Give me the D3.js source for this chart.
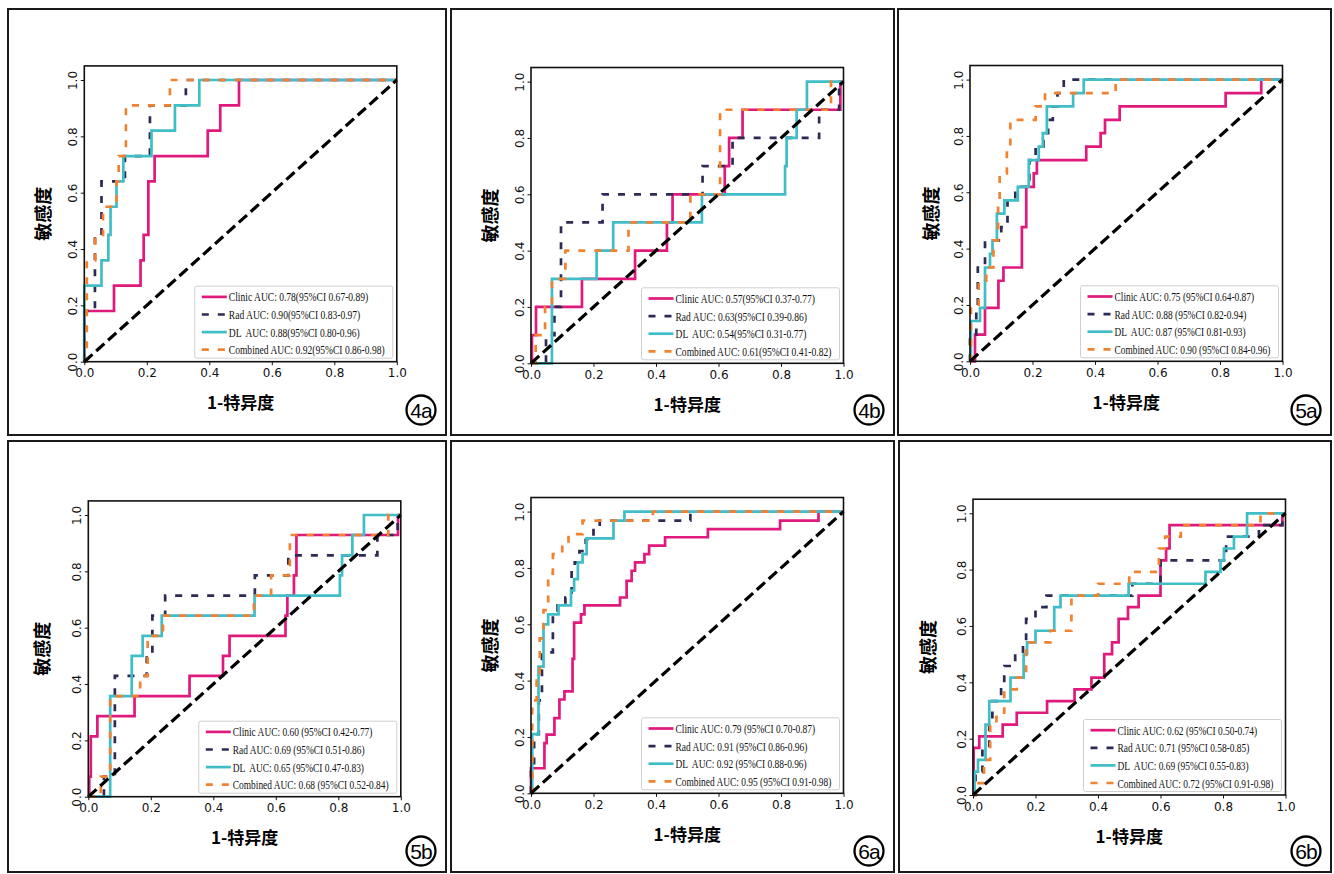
<!DOCTYPE html>
<html>
<head>
<meta charset="utf-8">
<script src="https://cdn.jsdelivr.net/npm/d3@7"></script>
<style>
body { margin: 0; background: #fff; }
</style>
</head>
<body>
<script>
// ---------- data ----------
var panelNames = ["4a", "4b", "5a", "5b", "6a", "6b"];
var seriesNames = ["Clinic", "Rad", "DL", "Combined"];
var tickValues = [0, 0.2, 0.4, 0.6, 0.8, 1.0];

var legend_4a = ["Clinic AUC: 0.78(95%CI 0.67-0.89)", "Rad AUC: 0.90(95%CI 0.83-0.97)", "DL  AUC: 0.88(95%CI 0.80-0.96)", "Combined AUC: 0.92(95%CI 0.86-0.98)"];
var legend_4b = ["Clinic AUC: 0.57(95%CI 0.37-0.77)", "Rad AUC: 0.63(95%CI 0.39-0.86)", "DL  AUC: 0.54(95%CI 0.31-0.77)", "Combined AUC: 0.61(95%CI 0.41-0.82)"];
var legend_5a = ["Clinic AUC: 0.75 (95%CI 0.64-0.87)", "Rad AUC: 0.88 (95%CI 0.82-0.94)", "DL  AUC: 0.87 (95%CI 0.81-0.93)", "Combined AUC: 0.90 (95%CI 0.84-0.96)"];
var legend_5b = ["Clinic AUC: 0.60 (95%CI 0.42-0.77)", "Rad AUC: 0.69 (95%CI 0.51-0.86)", "DL  AUC: 0.65 (95%CI 0.47-0.83)", "Combined AUC: 0.68 (95%CI 0.52-0.84)"];
var legend_6a = ["Clinic AUC: 0.79 (95%CI 0.70-0.87)", "Rad AUC: 0.91 (95%CI 0.86-0.96)", "DL  AUC: 0.92 (95%CI 0.88-0.96)", "Combined AUC: 0.95 (95%CI 0.91-0.98)"];
var legend_6b = ["Clinic AUC: 0.62 (95%CI 0.50-0.74)", "Rad AUC: 0.71 (95%CI 0.58-0.85)", "DL  AUC: 0.69 (95%CI 0.55-0.83)", "Combined AUC: 0.72 (95%CI 0.91-0.98)"];

// ROC vertices [1-specificity, sensitivity]
var clinic_4a = [[0,0],[0,0.18],[0.095,0.18],[0.095,0.27],[0.18,0.27],[0.18,0.36],[0.19,0.36],[0.19,0.45],[0.205,0.45],[0.205,0.64],[0.225,0.64],[0.225,0.73],[0.395,0.73],[0.395,0.82],[0.435,0.82],[0.435,0.91],[0.495,0.91],[0.495,1],[1,1]];
var rad_4a = [[0,0],[0,0.18],[0.034,0.18],[0.034,0.45],[0.055,0.45],[0.055,0.64],[0.13,0.64],[0.13,0.73],[0.21,0.73],[0.21,0.91],[0.325,0.91],[0.325,1],[1,1]];
var dl_4a = [[0,0],[0,0.27],[0.055,0.27],[0.055,0.36],[0.077,0.36],[0.077,0.45],[0.084,0.45],[0.084,0.55],[0.103,0.55],[0.103,0.64],[0.125,0.64],[0.125,0.73],[0.215,0.73],[0.215,0.82],[0.29,0.82],[0.29,0.91],[0.368,0.91],[0.368,1],[1,1]];
var comb_4a = [[0,0],[0.008,0],[0.008,0.36],[0.035,0.36],[0.035,0.45],[0.06,0.45],[0.06,0.55],[0.103,0.55],[0.103,0.64],[0.11,0.64],[0.11,0.73],[0.133,0.73],[0.133,0.91],[0.274,0.91],[0.274,1],[1,1]];

var clinic_4b = [[0,0],[0.003,0],[0.003,0.1],[0.016,0.1],[0.016,0.2],[0.163,0.2],[0.163,0.3],[0.333,0.3],[0.333,0.4],[0.435,0.4],[0.435,0.5],[0.453,0.5],[0.453,0.6],[0.62,0.6],[0.62,0.7],[0.634,0.7],[0.634,0.8],[0.677,0.8],[0.677,0.9],[0.99,0.9],[0.99,1],[1,1]];
var rad_4b = [[0,0],[0.048,0],[0.048,0.1],[0.075,0.1],[0.075,0.2],[0.096,0.2],[0.096,0.5],[0.229,0.5],[0.229,0.6],[0.549,0.6],[0.549,0.7],[0.645,0.7],[0.645,0.8],[0.922,0.8],[0.922,0.9],[0.986,0.9],[0.986,1],[1,1]];
var dl_4b = [[0,0],[0.067,0],[0.067,0.3],[0.21,0.3],[0.21,0.4],[0.263,0.4],[0.263,0.5],[0.547,0.5],[0.547,0.6],[0.813,0.6],[0.813,0.7],[0.818,0.7],[0.818,0.8],[0.85,0.8],[0.85,0.9],[0.883,0.9],[0.883,1],[1,1]];
var comb_4b = [[0,0],[0.015,0],[0.015,0.1],[0.045,0.1],[0.045,0.2],[0.067,0.2],[0.067,0.3],[0.11,0.3],[0.11,0.4],[0.312,0.4],[0.312,0.5],[0.51,0.5],[0.51,0.6],[0.605,0.6],[0.605,0.9],[0.96,0.9],[0.96,1],[1,1]];

var clinic_5a = [[0,0],[0.016,0],[0.016,0.095],[0.048,0.095],[0.048,0.19],[0.091,0.19],[0.091,0.286],[0.107,0.286],[0.107,0.333],[0.166,0.333],[0.166,0.476],[0.18,0.476],[0.18,0.619],[0.204,0.619],[0.204,0.667],[0.214,0.667],[0.214,0.714],[0.372,0.714],[0.372,0.762],[0.418,0.762],[0.418,0.81],[0.432,0.81],[0.432,0.857],[0.479,0.857],[0.479,0.905],[0.818,0.905],[0.818,0.952],[0.932,0.952],[0.932,1],[1,1]];
var rad_5a = [[0,0],[0,0.095],[0.02,0.095],[0.02,0.19],[0.025,0.19],[0.025,0.333],[0.048,0.333],[0.048,0.429],[0.1,0.429],[0.1,0.476],[0.12,0.476],[0.12,0.571],[0.145,0.571],[0.145,0.619],[0.19,0.619],[0.19,0.714],[0.21,0.714],[0.21,0.762],[0.235,0.762],[0.235,0.81],[0.25,0.81],[0.25,0.857],[0.265,0.857],[0.265,0.905],[0.28,0.905],[0.28,0.952],[0.3,0.952],[0.3,1],[1,1]];
var dl_5a = [[0,0],[0.003,0],[0.003,0.143],[0.032,0.143],[0.032,0.19],[0.048,0.19],[0.048,0.333],[0.064,0.333],[0.064,0.381],[0.072,0.381],[0.072,0.429],[0.086,0.429],[0.086,0.524],[0.11,0.524],[0.11,0.571],[0.153,0.571],[0.153,0.619],[0.188,0.619],[0.188,0.714],[0.22,0.714],[0.22,0.762],[0.233,0.762],[0.233,0.81],[0.246,0.81],[0.246,0.905],[0.33,0.905],[0.33,0.952],[0.364,0.952],[0.364,1],[1,1]];
var comb_5a = [[0,0],[0.003,0],[0.003,0.19],[0.028,0.19],[0.028,0.286],[0.052,0.286],[0.052,0.333],[0.075,0.333],[0.075,0.429],[0.09,0.429],[0.09,0.571],[0.095,0.571],[0.095,0.667],[0.118,0.667],[0.118,0.762],[0.129,0.762],[0.129,0.857],[0.21,0.857],[0.21,0.905],[0.24,0.905],[0.24,0.952],[0.466,0.952],[0.466,1],[1,1]];

var clinic_5b = [[0,0],[0.003,0],[0.003,0.071],[0.008,0.071],[0.008,0.214],[0.029,0.214],[0.029,0.286],[0.148,0.286],[0.148,0.357],[0.324,0.357],[0.324,0.429],[0.431,0.429],[0.431,0.5],[0.452,0.5],[0.452,0.571],[0.631,0.571],[0.631,0.643],[0.637,0.643],[0.637,0.714],[0.658,0.714],[0.658,0.786],[0.666,0.786],[0.666,0.929],[0.991,0.929],[0.991,1],[1,1]];
var rad_5b = [[0,0],[0.05,0],[0.05,0.071],[0.085,0.071],[0.085,0.429],[0.187,0.429],[0.187,0.5],[0.205,0.5],[0.205,0.643],[0.246,0.643],[0.246,0.714],[0.533,0.714],[0.533,0.786],[0.64,0.786],[0.64,0.857],[0.925,0.857],[0.925,0.929],[0.99,0.929],[0.99,1],[1,1]];
var dl_5b = [[0,0],[0.07,0],[0.07,0.357],[0.139,0.357],[0.139,0.5],[0.174,0.5],[0.174,0.571],[0.235,0.571],[0.235,0.643],[0.532,0.643],[0.532,0.714],[0.805,0.714],[0.805,0.786],[0.812,0.786],[0.812,0.857],[0.845,0.857],[0.845,0.929],[0.882,0.929],[0.882,1],[1,1]];
var comb_5b = [[0,0],[0.04,0],[0.04,0.071],[0.07,0.071],[0.07,0.357],[0.166,0.357],[0.166,0.429],[0.19,0.429],[0.19,0.571],[0.239,0.571],[0.239,0.643],[0.53,0.643],[0.53,0.714],[0.585,0.714],[0.585,0.786],[0.645,0.786],[0.645,0.929],[0.96,0.929],[0.96,1],[1,1]];

var clinic_6a = [[0,0],[0,0.089],[0.043,0.089],[0.043,0.178],[0.05,0.178],[0.05,0.208],[0.075,0.208],[0.075,0.267],[0.091,0.267],[0.091,0.333],[0.107,0.333],[0.107,0.362],[0.133,0.362],[0.133,0.477],[0.138,0.477],[0.138,0.606],[0.16,0.606],[0.16,0.635],[0.171,0.635],[0.171,0.667],[0.285,0.667],[0.285,0.695],[0.306,0.695],[0.306,0.754],[0.322,0.754],[0.322,0.79],[0.333,0.79],[0.333,0.82],[0.363,0.82],[0.363,0.849],[0.378,0.849],[0.378,0.879],[0.429,0.879],[0.429,0.909],[0.566,0.909],[0.566,0.938],[0.797,0.938],[0.797,0.968],[0.92,0.968],[0.92,1],[1,1]];
var rad_6a = [[0,0],[0,0.1],[0.01,0.1],[0.01,0.21],[0.025,0.21],[0.025,0.33],[0.035,0.33],[0.035,0.5],[0.07,0.5],[0.07,0.635],[0.085,0.635],[0.085,0.667],[0.11,0.667],[0.11,0.695],[0.13,0.695],[0.13,0.8],[0.14,0.8],[0.14,0.82],[0.155,0.82],[0.155,0.86],[0.175,0.86],[0.175,0.9],[0.2,0.9],[0.2,0.94],[0.22,0.94],[0.22,0.968],[0.51,0.968],[0.51,1],[1,1]];
var dl_6a = [[0,0],[0.004,0],[0.004,0.21],[0.024,0.21],[0.024,0.45],[0.04,0.45],[0.04,0.6],[0.055,0.6],[0.055,0.635],[0.088,0.635],[0.088,0.667],[0.128,0.667],[0.128,0.72],[0.138,0.72],[0.138,0.76],[0.15,0.76],[0.15,0.82],[0.165,0.82],[0.165,0.849],[0.178,0.849],[0.178,0.905],[0.264,0.905],[0.264,0.968],[0.299,0.968],[0.299,1],[1,1]];
var comb_6a = [[0,0],[0.004,0],[0.004,0.33],[0.018,0.33],[0.018,0.4],[0.028,0.4],[0.028,0.55],[0.04,0.55],[0.04,0.65],[0.055,0.65],[0.055,0.78],[0.07,0.78],[0.07,0.849],[0.1,0.849],[0.1,0.88],[0.12,0.88],[0.12,0.92],[0.165,0.92],[0.165,0.968],[0.39,0.968],[0.39,1],[1,1]];

var clinic_6b = [[0,0],[0.002,0],[0.002,0.167],[0.02,0.167],[0.02,0.208],[0.095,0.208],[0.095,0.25],[0.14,0.25],[0.14,0.292],[0.237,0.292],[0.237,0.333],[0.325,0.333],[0.325,0.375],[0.379,0.375],[0.379,0.417],[0.42,0.417],[0.42,0.5],[0.445,0.5],[0.445,0.542],[0.466,0.542],[0.466,0.625],[0.496,0.625],[0.496,0.667],[0.53,0.667],[0.53,0.708],[0.6,0.708],[0.6,0.833],[0.618,0.833],[0.618,0.875],[0.629,0.875],[0.629,0.958],[0.99,0.958],[0.99,1],[1,1]];
var rad_6b = [[0,0],[0.008,0],[0.008,0.083],[0.03,0.083],[0.03,0.167],[0.052,0.167],[0.052,0.25],[0.062,0.25],[0.062,0.333],[0.09,0.333],[0.09,0.375],[0.1,0.375],[0.1,0.458],[0.135,0.458],[0.135,0.5],[0.16,0.5],[0.16,0.542],[0.17,0.542],[0.17,0.625],[0.2,0.625],[0.2,0.667],[0.235,0.667],[0.235,0.708],[0.51,0.708],[0.51,0.75],[0.6,0.75],[0.6,0.833],[0.81,0.833],[0.81,0.917],[0.915,0.917],[0.915,0.958],[0.99,0.958],[0.99,1],[1,1]];
var dl_6b = [[0,0],[0.005,0],[0.005,0.083],[0.016,0.083],[0.016,0.125],[0.04,0.125],[0.04,0.25],[0.052,0.25],[0.052,0.333],[0.12,0.333],[0.12,0.417],[0.162,0.417],[0.162,0.5],[0.173,0.5],[0.173,0.542],[0.2,0.542],[0.2,0.583],[0.26,0.583],[0.26,0.667],[0.28,0.667],[0.28,0.708],[0.498,0.708],[0.498,0.75],[0.744,0.75],[0.744,0.792],[0.792,0.792],[0.792,0.833],[0.803,0.833],[0.803,0.875],[0.835,0.875],[0.835,0.917],[0.877,0.917],[0.877,1],[1,1]];
var comb_6b = [[0,0],[0.01,0],[0.01,0.042],[0.035,0.042],[0.035,0.125],[0.055,0.125],[0.055,0.25],[0.075,0.25],[0.075,0.292],[0.1,0.292],[0.1,0.375],[0.14,0.375],[0.14,0.417],[0.17,0.417],[0.17,0.542],[0.248,0.542],[0.248,0.583],[0.315,0.583],[0.315,0.708],[0.4,0.708],[0.4,0.75],[0.5,0.75],[0.5,0.792],[0.595,0.792],[0.595,0.875],[0.615,0.875],[0.615,0.917],[0.665,0.917],[0.665,0.958],[0.92,0.958],[0.92,1],[1,1]];

var panels = [
	{ name: panelNames[0], legend: legend_4a, curves: [clinic_4a, rad_4a, dl_4a, comb_4a] },
	{ name: panelNames[1], legend: legend_4b, curves: [clinic_4b, rad_4b, dl_4b, comb_4b] },
	{ name: panelNames[2], legend: legend_5a, curves: [clinic_5a, rad_5a, dl_5a, comb_5a] },
	{ name: panelNames[3], legend: legend_5b, curves: [clinic_5b, rad_5b, dl_5b, comb_5b] },
	{ name: panelNames[4], legend: legend_6a, curves: [clinic_6a, rad_6a, dl_6a, comb_6a] },
	{ name: panelNames[5], legend: legend_6b, curves: [clinic_6b, rad_6b, dl_6b, comb_6b] }
];

// ---------- layout & style ----------
var width = 1334, height = 874;
var frames = [[8, 9, 446, 435], [451, 9, 894, 435], [898, 9, 1331, 435],
	[8, 441, 446, 872], [451, 441, 894, 872], [899, 441, 1331, 872]];
var axesLeft = [84.3, 531, 970, 88.3, 531, 973];
var axesZero = [361.7, 363.3, 361.3, 796.7, 793.3, 795];
var yLabelOff = [42, 42, 40, 47.5, 42, 46];
var circleY = [410, 410, 410, 851, 851, 851];
var plotW = 312.5, plotH = 281.7;
var colors = ["#e0197d", "#2c2b53", "#40bdc7", "#f28230"];
var dashes = [null, "7,9", null, "7,9"];

var svg = d3.select("body").append("svg")
	.attr("width", width)
	.attr("height", height);

panels.forEach(function (p, i) {
	var f = frames[i];

	//panel frame
	svg.append("rect")
		.attr("x", f[0]).attr("y", f[1])
		.attr("width", f[2] - f[0]).attr("height", f[3] - f[1])
		.attr("fill", "none")
		.attr("stroke", "#1a1a1a")
		.attr("stroke-width", 2);

	var x = d3.scaleLinear().domain([0, 1]).range([axesLeft[i], axesLeft[i] + plotW]);
	var y = d3.scaleLinear().domain([0, 1]).range([axesZero[i], axesZero[i] - plotH]);
	var g = svg.append("g");

	var line = d3.line()
		.x(function (d) { return x(d[0]); })
		.y(function (d) { return y(d[1]); });

	//roc curves
	p.curves.forEach(function (c, k) {
		g.append("path")
			.datum(c)
			.attr("d", line)
			.attr("fill", "none")
			.attr("stroke", colors[k])
			.attr("stroke-width", 2.7)
			.attr("stroke-dasharray", dashes[k]);
	});

	//chance line
	g.append("path")
		.datum([[0, 0], [1, 1]])
		.attr("d", line)
		.attr("fill", "none")
		.attr("stroke", "#000")
		.attr("stroke-width", 3.2)
		.attr("stroke-dasharray", "11,5");

	//spines
	g.append("rect")
		.attr("x", x(0)).attr("y", y(1.05))
		.attr("width", x(1) - x(0)).attr("height", y(0) - y(1.05))
		.attr("fill", "none")
		.attr("stroke", "#111")
		.attr("stroke-width", 1.6);

	//x axis
	var xa = g.append("g")
		.attr("transform", "translate(0," + y(0) + ")")
		.call(d3.axisBottom(x).tickValues(tickValues).tickFormat(d3.format(".1f")).tickSize(3.5));
	xa.select(".domain").remove();
	xa.selectAll("line").attr("stroke", "#111");
	xa.selectAll("text")
		.attr("y", 11.5)
		.attr("dy", null)
		.attr("dominant-baseline", "central")
		.attr("fill", "#111")
		.style("font", "12px 'DejaVu Sans'");

	//y axis, rotated labels
	var ya = g.append("g")
		.attr("transform", "translate(" + x(0) + ",0)")
		.call(d3.axisLeft(y).tickValues(tickValues).tickFormat(d3.format(".1f")).tickSize(3.5));
	ya.select(".domain").remove();
	ya.selectAll("line").attr("stroke", "#111");
	ya.selectAll("text")
		.attr("x", null)
		.attr("dy", null)
		.attr("text-anchor", "middle")
		.attr("dominant-baseline", "central")
		.attr("transform", "translate(-11.5,0) rotate(-90)")
		.attr("fill", "#111")
		.style("font", "12px 'DejaVu Sans'");

	//axis titles
	g.append("text")
		.attr("x", (x(0) + x(1)) / 2)
		.attr("y", y(0) + 40)
		.attr("text-anchor", "middle")
		.attr("dominant-baseline", "central")
		.style("font", "bold 17px 'Noto Sans CJK SC'")
		.text("1-特异度");

	g.append("text")
		.attr("transform", "translate(" + (x(0) - yLabelOff[i]) + "," + ((y(0) + y(1.05)) / 2) + ") rotate(-90)")
		.attr("text-anchor", "middle")
		.attr("dominant-baseline", "central")
		.style("font", "bold 18px 'Noto Sans CJK SC'")
		.text("敏感度");

	//legend
	var lw = 198, lh = 72;
	var lx = x(1) - 4 - lw, ly = y(0) - 3.5 - lh;
	g.append("rect")
		.attr("x", lx).attr("y", ly)
		.attr("width", lw).attr("height", lh)
		.attr("rx", 2)
		.attr("fill", "#fff")
		.attr("fill-opacity", 0.85)
		.attr("stroke", "#cfcfcf")
		.attr("stroke-width", 1);

	var texts = p.legend.map(function (t, k) {
		var yy = ly + 10.7 + k * 17.6;
		g.append("line")
			.attr("x1", lx + 7).attr("x2", lx + 32)
			.attr("y1", yy).attr("y2", yy)
			.attr("stroke", colors[k])
			.attr("stroke-width", 2.7)
			.attr("stroke-dasharray", dashes[k]);
		return g.append("text")
			.attr("xml:space", "preserve")
			.style("white-space", "pre")
			.attr("dominant-baseline", "central")
			.attr("fill", "#111")
			.style("font", "12.8px 'Liberation Serif'")
			.text(t);
	});
	var maxLen = d3.max(texts, function (t) { return t.node().getComputedTextLength(); });
	var sx = 156 / maxLen;
	texts.forEach(function (t, k) {
		t.attr("transform", "translate(" + (lx + 34) + "," + (ly + 10.7 + k * 17.6) + ") scale(" + sx + ",1)");
	});

	//panel tag
	svg.append("circle")
		.attr("cx", f[2] - 25).attr("cy", circleY[i])
		.attr("r", 14.5)
		.attr("fill", "none")
		.attr("stroke", "#000")
		.attr("stroke-width", 2.3);
	svg.append("text")
		.attr("x", f[2] - 25).attr("y", circleY[i] + 0.5)
		.attr("text-anchor", "middle")
		.attr("dominant-baseline", "central")
		.attr("letter-spacing", "-1")
		.style("font", "21px 'Liberation Sans'")
		.text(p.name);
});
</script>
</body>
</html>
